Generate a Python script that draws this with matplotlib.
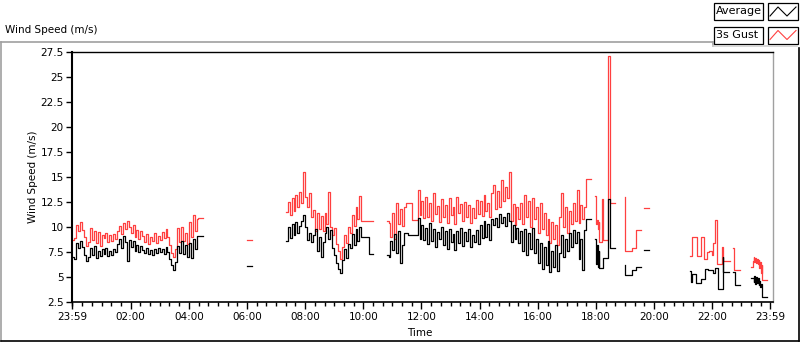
import numpy as np
import matplotlib.pyplot as plt
from matplotlib.lines import Line2D
from matplotlib.patches import Rectangle

W, H = 800, 342
GUST_COLOR = '#ff4040'
AVG_COLOR = '#000000'

# time is hours after midnight, samples every 4 minutes in the dense parts
STEP = 4 / 60

# 00:00 - 04:16
seg1_start = 0.0
seg1_gust = [8.7, 8.9, 10.2, 9.6, 10.5, 9.7, 9.0, 8.1, 8.5, 9.9, 8.7, 9.6, 8.4, 9.5, 8.1, 9.2,
             8.9, 9.4, 8.5, 9.2, 8.6, 9.3, 8.8, 9.6, 10.1, 9.3, 10.4, 9.8, 10.6, 10.0, 9.4, 10.2,
             9.0, 9.7, 8.8, 9.6, 9.1, 8.5, 9.3, 8.3, 9.0, 8.6, 9.4, 8.4, 9.1, 8.7, 9.5, 8.9,
             9.8, 9.0, 8.2, 7.4, 7.0, 7.8, 9.9, 8.5, 10.0, 8.6, 9.4, 8.3, 10.5, 9.0, 11.2, 9.6,
             10.8]
seg1_avg = [7.0, 6.8, 8.4, 7.9, 8.6, 8.0, 7.2, 6.6, 7.0, 7.9, 7.2, 8.1, 6.9, 7.6, 7.1, 7.8,
            7.3, 7.9, 7.1, 7.6, 7.2, 7.8, 7.5, 8.3, 8.8, 7.9, 9.1, 8.5, 6.6, 8.7, 8.0, 8.6,
            7.6, 8.2, 7.5, 8.1, 7.7, 7.4, 7.9, 7.3, 7.7, 7.2, 7.8, 7.4, 7.9, 7.5, 7.8, 7.3,
            8.0, 7.5, 6.8, 6.2, 5.7, 6.5, 8.1, 7.4, 8.6, 7.3, 8.2, 7.0, 8.4, 6.9, 8.8, 7.8,
            9.1]
seg1_tail_t = [4.33, 4.49]
seg1_tail_gust = [10.9, 10.9]
seg1_tail_avg = [9.1, 9.1]

# lone reading around 06:00
lone_t = [6.0, 6.17]
lone_gust = [8.7, 8.7]
lone_avg = [6.1, 6.1]

# 07:20 - 10:20
seg2_start = 7.333
seg2_gust = [11.5, 12.5, 11.2, 12.9, 11.6, 13.2, 12.0, 13.5, 12.4, 15.5, 13.0, 12.0, 13.4, 11.0,
             11.7, 9.6, 11.4, 9.8, 11.1, 9.6, 11.4, 10.3, 13.5, 10.0, 9.2, 9.9, 8.3, 7.6, 6.8,
             8.0, 9.2, 8.4, 10.0, 9.4, 11.2, 10.1, 12.0, 10.8, 13.1]
seg2_avg = [8.6, 10.0, 8.9, 10.3, 9.2, 10.5, 9.4, 10.1, 10.6, 11.2, 10.0, 8.7, 9.4, 8.5, 9.2,
            9.8, 7.6, 9.0, 7.0, 8.5, 9.4, 10.0, 8.8, 9.7, 7.9, 7.2, 6.4, 5.8, 5.4, 6.7, 7.8,
            6.9, 8.3, 7.9, 9.3, 8.2, 9.8, 8.6, 10.0]
seg2_tail_gust_t = [9.933, 10.34]
seg2_tail_gust = [10.6, 10.6]
seg2_tail_avg_t = [9.933, 10.20, 10.34]
seg2_tail_avg = [9.0, 7.3, 7.3]

# 10:48 - 17:50
seg3_start = 10.8
seg3_gust = [10.6, 10.4, 9.0, 11.4, 8.8, 12.4, 10.3, 11.8, 10.1, 12.0, 12.4, 12.4, 12.4, 10.7,
             10.7, 10.7, 13.7, 11.2, 12.6, 10.9, 13.0, 11.0, 12.4, 10.6, 13.4, 11.3, 12.1, 10.5,
             12.8, 11.0, 12.2, 10.4, 12.9, 11.2, 12.0, 10.3, 13.0, 11.4, 12.3, 10.6, 12.5, 11.0,
             12.2, 10.4, 11.9, 10.9, 12.7, 11.3, 12.6, 11.1, 13.2, 11.6, 12.4, 11.0, 13.4, 14.2,
             11.8, 13.6, 12.0, 14.7, 12.6, 14.0, 12.9, 15.5, 10.6, 12.3, 10.2, 12.0, 10.8, 12.4,
             10.3, 13.2, 11.0, 12.6, 10.0, 12.9, 10.8, 12.0, 9.4, 12.4, 9.8, 11.4, 9.2, 10.8,
             8.4, 10.5, 8.8, 10.2, 8.2, 11.0, 13.4, 10.0, 12.0, 9.4, 11.6, 10.3, 12.4, 10.6,
             13.7, 10.4, 12.2, 10.8, 12.0]
seg3_avg = [7.2, 7.0, 8.6, 7.7, 9.3, 7.4, 9.6, 6.4, 8.2, 9.4, 9.4, 9.2, 9.2, 9.2, 9.2, 9.2,
            10.9, 8.8, 10.2, 8.7, 9.9, 8.3, 10.4, 8.6, 9.8, 8.0, 9.5, 8.8, 10.0, 8.2, 9.6, 7.8,
            9.8, 8.5, 9.3, 7.7, 9.6, 8.4, 9.9, 8.1, 9.5, 8.6, 9.8, 8.0, 9.2, 8.5, 9.7, 8.3,
            10.2, 8.9, 10.6, 9.0, 10.3, 8.7, 10.8, 10.2, 10.9, 10.0, 11.3, 10.4, 11.0, 10.1,
            11.4, 10.6, 8.5, 10.2, 8.8, 9.9, 8.4, 9.6, 7.6, 9.8, 7.2, 9.4, 7.8, 9.9, 7.4, 8.8,
            6.4, 8.4, 5.8, 8.0, 6.2, 8.6, 5.5, 7.6, 6.0, 8.2, 5.6, 7.4, 9.2, 7.0, 8.8, 7.6,
            9.4, 8.0, 9.7, 8.4, 9.5, 6.8, 8.8, 5.7, 9.7]
seg3_tail_t = [17.667, 17.82]
seg3_tail_gust = [14.8, 14.8]
seg3_tail_avg = [10.8, 10.8]

# sparse readings from 18:00 on
grpA_gust_t = [17.97, 18.00, 18.03, 18.06, 18.09, 18.12, 18.22, 18.25, 18.43, 18.47, 18.66]
grpA_gust = [13.1, 10.3, 10.7, 9.8, 10.5, 8.5, 12.8, 8.7, 27.1, 12.4, 12.4]
grpA_avg_t = [17.97, 18.00, 18.03, 18.06, 18.09, 18.12, 18.23, 18.43, 18.47, 18.66]
grpA_avg = [8.8, 6.3, 8.2, 6.0, 7.6, 5.9, 6.9, 12.8, 7.9, 7.9]

grpB_gust_t = [18.99, 19.00, 19.23, 19.38, 19.55]
grpB_gust = [13.0, 7.6, 7.9, 9.7, 9.7]
grpB_avg_t = [19.00, 19.01, 19.23, 19.38, 19.55]
grpB_avg = [6.2, 5.2, 5.7, 6.0, 6.0]

grpC_t = [19.65, 19.83]
grpC_gust = [11.9, 11.9]
grpC_avg = [7.7, 7.7]

grpD_gust_t = [21.24, 21.29, 21.46, 21.60, 21.73, 21.81, 21.88, 21.98, 22.02, 22.09, 22.17,
               22.34, 22.38, 22.61]
grpD_gust = [7.1, 9.0, 7.1, 9.0, 6.8, 7.5, 7.6, 7.2, 8.4, 10.7, 6.3, 8.0, 6.6, 6.6]
grpD_avg_t = [21.24, 21.26, 21.29, 21.45, 21.60, 21.75, 21.86, 22.03, 22.09, 22.21, 22.36,
              22.38, 22.59]
grpD_avg = [5.6, 4.5, 5.3, 4.4, 4.8, 5.8, 5.7, 5.4, 5.9, 3.8, 7.0, 5.5, 5.5]

grpE_gust_t = [22.72, 22.73, 22.95]
grpE_gust = [7.9, 5.7, 5.7]
grpE_avg_t = [22.72, 22.78, 22.95]
grpE_avg = [5.5, 4.2, 4.2]

grpF_t = [23.32, 23.39, 23.42, 23.45, 23.48, 23.51, 23.53, 23.56, 23.59, 23.62, 23.64, 23.67,
          23.70, 23.72, 23.89]
grpF_gust = [6.0, 6.6, 7.0, 6.5, 6.9, 6.4, 6.8, 6.3, 6.7, 5.9, 6.5, 5.4, 6.2, 4.7, 4.7]
grpF_avg = [4.9, 4.9, 4.5, 5.1, 4.3, 5.0, 4.4, 4.9, 4.2, 4.6, 4.0, 4.3, 3.6, 3.0, 3.0]

tick_pos = [-1 / 60, 2, 4, 6, 8, 10, 12, 14, 16, 18, 20, 22, 23 + 59 / 60]
tick_labels = ['23:59', '02:00', '04:00', '06:00', '08:00', '10:00', '12:00',
               '14:00', '16:00', '18:00', '20:00', '22:00', '23:59']
y_ticks = [2.5, 5, 7.5, 10, 12.5, 15, 17.5, 20, 22.5, 25, 27.5]
y_labels = ['2.5', '5', '7.5', '10', '12.5', '15', '17.5', '20', '22.5', '25', '27.5']


def dense(start, values):
    return start + np.arange(len(values)) * STEP


def fx(px):
    return px / W


def fy(py):
    return 1 - py / H


fig = plt.figure(figsize=(W / 100, H / 100), dpi=100)
ax = fig.add_axes([fx(72), fy(302), (772.7 - 72) / W, 250 / H])

pieces = [
    (dense(seg1_start, seg1_gust), seg1_gust, dense(seg1_start, seg1_avg), seg1_avg),
    (seg1_tail_t, seg1_tail_gust, seg1_tail_t, seg1_tail_avg),
    (lone_t, lone_gust, lone_t, lone_avg),
    (dense(seg2_start, seg2_gust), seg2_gust, dense(seg2_start, seg2_avg), seg2_avg),
    (seg2_tail_gust_t, seg2_tail_gust, seg2_tail_avg_t, seg2_tail_avg),
    (dense(seg3_start, seg3_gust), seg3_gust, dense(seg3_start, seg3_avg), seg3_avg),
    (seg3_tail_t, seg3_tail_gust, seg3_tail_t, seg3_tail_avg),
    (grpA_gust_t, grpA_gust, grpA_avg_t, grpA_avg),
    (grpB_gust_t, grpB_gust, grpB_avg_t, grpB_avg),
    (grpC_t, grpC_gust, grpC_t, grpC_avg),
    (grpD_gust_t, grpD_gust, grpD_avg_t, grpD_avg),
    (grpE_gust_t, grpE_gust, grpE_avg_t, grpE_avg),
    (grpF_t, grpF_gust, grpF_t, grpF_avg),
]

# join the dense parts to their flat tails so the steps connect
def joined(a_t, a_v, b_t, b_v):
    return list(a_t) + list(b_t), list(a_v) + list(b_v)

gust_lines = []
avg_lines = []
i = 0
while i < len(pieces):
    gt, gv, at, av = pieces[i]
    if i in (0, 3, 5):
        nt, nv, nat, nav = pieces[i + 1]
        gt, gv = joined(gt, gv, nt, nv)
        at, av = joined(at, av, nat, nav)
        i += 1
    gust_lines.append((gt, gv))
    avg_lines.append((at, av))
    i += 1

for t, v in gust_lines:
    ax.plot(t, v, drawstyle='steps-post', color=GUST_COLOR, lw=0.9)
for t, v in avg_lines:
    ax.plot(t, v, drawstyle='steps-post', color=AVG_COLOR, lw=0.9)

ax.set_xlim(-1 / 60, (772.7 - 72) / 29.083 - 1 / 60)
ax.set_ylim(2.5, 27.5)
ax.set_xticks(tick_pos)
ax.set_xticklabels(tick_labels)
ax.set_xticks(np.arange(0, 24, 1 / 3), minor=True)
ax.set_yticks(y_ticks)
ax.set_yticklabels(y_labels)
ax.tick_params(axis='x', which='major', length=5, width=1, pad=2, labelsize=7.5, direction='out')
ax.tick_params(axis='x', which='minor', length=3, width=1, direction='out')
ax.tick_params(axis='y', which='major', length=4, width=1, pad=2, labelsize=7.5, direction='out')

for side in ['left', 'bottom', 'top']:
    ax.spines[side].set_color('black')
ax.spines['left'].set_linewidth(1.5)
ax.spines['bottom'].set_linewidth(1.2)
ax.spines['top'].set_linewidth(1.0)
ax.spines['right'].set_color('#a0a0a0')
ax.spines['right'].set_linewidth(1.0)

ax.set_ylabel('Wind Speed (m/s)', fontsize=7.5, va='center')
ax.yaxis.set_label_coords(-0.0557, 0.5)
ax.set_xlabel('Time', fontsize=7.5, va='center')
ax.xaxis.set_label_coords(0.497, -0.124)

fig.text(fx(5), fy(30), 'Wind Speed (m/s)', fontsize=7.5, va='center', ha='left')

# outer frame of the graph control
frame = [((0.5, 42), (712.5, 42), '#a0a0a0'),
         ((712.5, 42), (712.5, 46), '#a0a0a0'),
         ((712.5, 46), (797, 46), '#d0d0d0'),
         ((0.5, 42), (0.5, 341), '#a0a0a0'),
         ((0.5, 340.7), (799, 340.7), '#000000'),
         ((799, 48), (799, 341), '#000000')]
for (x0, y0), (x1, y1), c in frame:
    fig.add_artist(Line2D([fx(x0), fx(x1)], [fy(y0), fy(y1)], color=c, lw=1.2))

# legend
legend_rows = [('Average', AVG_COLOR, 3, 20), ('3s Gust', GUST_COLOR, 26.5, 43.5)]
for name, color, top, bottom in legend_rows:
    fig.add_artist(Rectangle((fx(714), fy(bottom)), fx(763 - 714), (bottom - top) / H,
                             facecolor='white', edgecolor='black', lw=0.9))
    fig.text(fx(716), fy((top + bottom) / 2), name, fontsize=8, va='center', ha='left')
    fig.add_artist(Rectangle((fx(768), fy(bottom)), fx(797.5 - 768), (bottom - top) / H,
                             facecolor='white', edgecolor='black', lw=0.9))
    zx = [770, 778, 787, 796]
    zy = [bottom - 4, top + 4, bottom - 4, top + 4]
    fig.add_artist(Line2D([fx(v) for v in zx], [fy(v) for v in zy], color=color, lw=0.8))

fig.savefig('out.png', dpi=100)
